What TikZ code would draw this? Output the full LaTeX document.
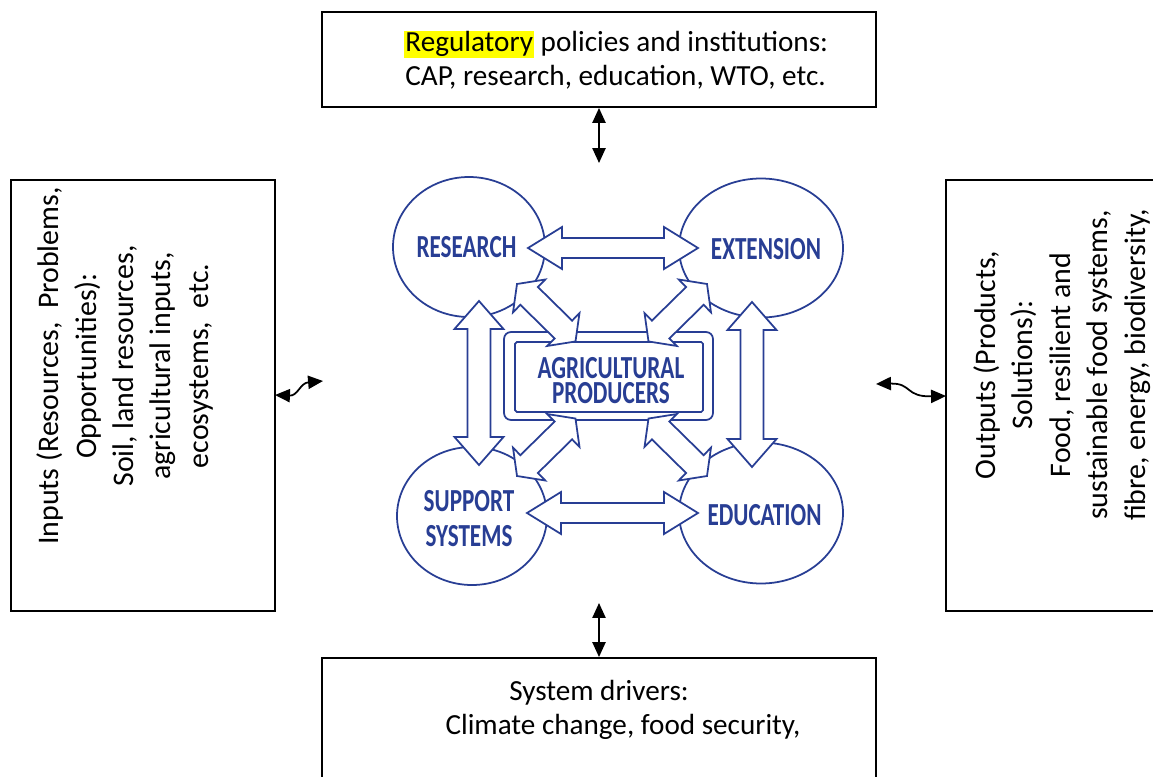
\documentclass[tikz,border=0pt]{standalone}
\usepackage{fontspec}
\setmainfont{Carlito}
\newfontfamily\condfont[FakeStretch=0.72]{Carlito}
\usetikzlibrary{arrows.meta,shapes.geometric,fit}
\definecolor{navy}{RGB}{40,62,148}
\definecolor{marker}{RGB}{255,255,0}

% hollow double-headed block arrow
% #1 start tip, #2 direction (degrees, clockwise in picture), #3 length,
% #4 shaft half-width, #5 head half-width, #6 head length
\newcommand\hollowdouble[6]{%
  \begin{scope}[shift={(#1)}, rotate={-1*(#2)}]
    \draw[blockarrow] (0,0) -- (#6,#5) -- (#6,#4) -- ({#3-#6},#4) -- ({#3-#6},#5)
      -- (#3,0) -- ({#3-#6},-#5) -- ({#3-#6},-#4) -- (#6,-#4) -- (#6,-#5) -- cycle;
  \end{scope}}

\begin{document}
\begin{tikzpicture}[x=0.02cm, y=-0.02cm,
  frame/.style={draw=black, line width=1.1pt, inner sep=0pt},
  boxtext/.style={font=\fontsize{16.6}{20}\selectfont, inner sep=0pt},
  sidetext/.style={font=\fontsize{17}{21.3}\selectfont, align=center, rotate=90, inner sep=0pt},
  link/.style={line width=1pt, {Triangle[length=8.5pt,width=7.5pt]}-{Triangle[length=8.5pt,width=7.5pt]}},
  blob/.style={ellipse, draw=navy, line width=1pt, inner sep=0pt},
  blocklabel/.style={text=navy, font=\condfont\bfseries\fontsize{18.3}{19.8}\selectfont,
    inner sep=0pt, anchor=base, align=center},
  blockarrow/.style={draw=navy, fill=white, line width=1pt, line join=miter},
]
\fill[white] (0,0) rectangle (1153,777);
\clip (0,0) rectangle (1153,777);

% ---------- outer boxes ----------
\node[frame, fit={(322,12) (876,107)}] (policy) {};
\node[boxtext, anchor=base west] (policy1) at (404,52)
  {{\fboxsep=0.6pt\colorbox{marker}{Regulatory}} policies and institutions:};
\node[boxtext, anchor=base west] (policy2) at (405,86)
  {CAP, research, education, WTO, etc.};

\node[frame, fit={(322,658) (876,800)}] (drivers) {};
\node[boxtext, anchor=base] (drivers1) at (599,700) {System drivers:};
\node[boxtext, anchor=base] (drivers2) at (623,734) {Climate change, food security,};

\node[frame, fit={(11,180) (275,611)}] (inputs) {};
\node[sidetext] (inputstext) at (125,366)
  {Inputs (Resources,\ \ Problems,\\ Opportunities):\\ Soil, land resources,\\
   agricultural inputs,\\ ecosystems,\ \ etc.};

\node[frame, fit={(946,180) (1180,611)}] (outputs) {};
\node[sidetext] (outputstext) at (1062,365)
  {Outputs (Products,\\ Solutions):\\ Food, resilient and\\
   sustainable food systems,\\ fibre, energy, biodiversity,};

% ---------- links between boxes and the core ----------
\coordinate (topend) at (599,163);
\coordinate (botend) at (599,603);
\coordinate (inend) at (275,395);
\coordinate (inwave) at (323,381);
\coordinate (outwave) at (876,384);
\coordinate (outend) at (946,396);
\draw[link] (policy.south) -- (topend);
\draw[link] (botend) -- (drivers.north);
\draw[link] (inend) .. controls (298,396) and (300,383) .. (inwave);
\draw[link] (outwave) .. controls (912,383) and (905,397) .. (outend);

% ---------- core: four actors around the producers ----------
\node[blob, minimum width={152*0.02cm}, minimum height={140*0.02cm}] (research) at (469,247) {};
\node[blob, minimum width={164*0.02cm}, minimum height={139*0.02cm}] (extension) at (761,248) {};
\node[blob, minimum width={150*0.02cm}, minimum height={138*0.02cm}] (support) at (472,516) {};
\node[blob, minimum width={164*0.02cm}, minimum height={141*0.02cm}] (education) at (761,513) {};

\draw[navy, line width=1pt, rounded corners=4pt] (504,332) rectangle (713,420);
\draw[navy, line width=1pt, rounded corners=1pt] (515,342) rectangle (703,412);
\node[inner sep=0pt, fit={(515,342) (703,412)}] (producers) {};

% block arrows (tips named)
\coordinate (rtA) at (528,248);  \coordinate (sbA) at (527,513);
\coordinate (rsA) at (479,301);  \coordinate (eeA) at (752,302);
\coordinate (rpA) at (517,284);  \coordinate (epA) at (707,284);
\coordinate (spA) at (517,476);  \coordinate (dpA) at (707,476);

\hollowdouble{rtA}{0}{170}{10}{21}{34}
\hollowdouble{sbA}{0}{171}{10}{21}{34}
\hollowdouble{rsA}{90}{164}{11.5}{24.5}{28}
\hollowdouble{eeA}{90}{165}{11.5}{24.5}{28}
\hollowdouble{rpA}{44.5}{82}{12.5}{23}{17}
\hollowdouble{epA}{135.5}{82}{12.5}{23}{17}
\hollowdouble{spA}{-44.5}{82}{12.5}{23}{17}
\hollowdouble{dpA}{-135.5}{82}{12.5}{23}{17}

% labels
\node[blocklabel] (researchtext) at (466.5,257) {RESEARCH};
\node[blocklabel] (extensiontext) at (766,259) {EXTENSION};
\node[blocklabel, anchor=north] (supporttext) at (469,490) {SUPPORT\\SYSTEMS};
\node[blocklabel] (educationtext) at (764.5,525) {EDUCATION};
\node[blocklabel, anchor=north,
  font=\condfont\bfseries\fontsize{18.3}{14.2}\selectfont] (producerstext) at (611,357)
  {AGRICULTURAL\\PRODUCERS};
\end{tikzpicture}
\end{document}
